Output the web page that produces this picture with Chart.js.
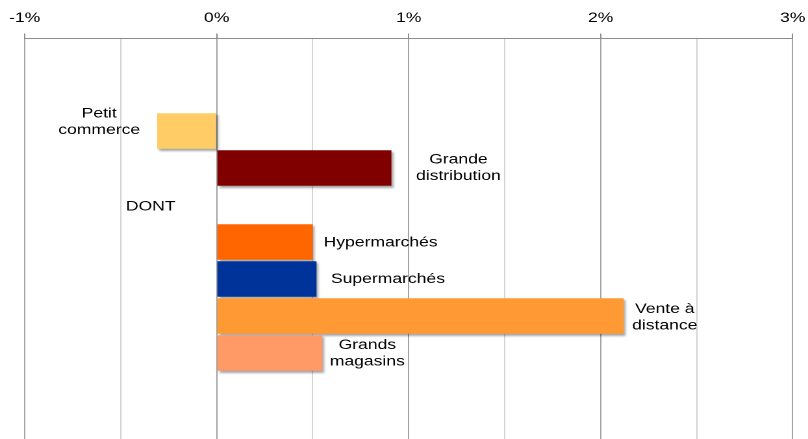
<!DOCTYPE html>
<html>
<head>
<meta charset="utf-8">
<script src="https://cdn.jsdelivr.net/npm/chart.js@4"></script>
<style>
  html, body { margin: 0; padding: 0; background: #fff; overflow: hidden; width: 808px; height: 439px; }
  #c { display: block; transform: scaleX(1.29904); transform-origin: 0 0; }
</style>
</head>
<body>
<canvas id="c" width="627" height="447"></canvas>
<script>
// ---- data ----
const categories = ["", "", ["Petit", "commerce"], ["Grande", "distribution"], ["DONT"], ["Hypermarchés"], ["Supermarchés"], ["Vente à", "distance"], ["Grands", "magasins"], "", ""];
const growth = [null, null, -0.31, 0.91, null, 0.50, 0.52, 2.12, 0.55, null, null];
const xTickValues = [-1, 0, 1, 2, 3];
const xTickLabels = ["-1%", "0%", "1%", "2%", "3%"];

// ---- styles ----
const barColors = ["#000", "#000", "#FFCC66", "#800000", "#000", "#FF6600", "#003399", "#FF9933", "#FF9966", "#000", "#000"];
// label placement: [dx from bar end, dy from row centre] in chart pixels
const labelOffsets = [null, null, [-44.6, -9], [51.6, 0], [-50.8, 2], [52.3, 1], [55, 0.5], [31.6, 1.5], [34.6, 0.5], null, null];
const FONT = "'Liberation Sans', Arial, sans-serif";

const shadowPlugin = {
  id: 'barShadow',
  beforeDatasetsDraw(chart) {
    const ctx = chart.ctx;
    ctx.save();
    ctx.shadowColor = 'rgba(0,0,0,0.35)';
    ctx.shadowBlur = 4;
    ctx.shadowOffsetX = 3;
    ctx.shadowOffsetY = 4;
  },
  afterDatasetsDraw(chart) {
    chart.ctx.restore();
  }
};

const labelPlugin = {
  id: 'barLabels',
  afterDraw(chart) {
    const ctx = chart.ctx;
    const xs = chart.scales.x, ys = chart.scales.y;
    ctx.save();
    ctx.font = "13.5px " + FONT;
    ctx.fillStyle = '#000';
    ctx.textAlign = 'center';
    ctx.textBaseline = 'middle';
    const lh = 16.5;
    categories.forEach((cat, i) => {
      const off = labelOffsets[i];
      if (!off) return;
      const lines = Array.isArray(cat) ? cat : [cat];
      const v = growth[i] == null ? 0 : growth[i];
      const x = xs.getPixelForValue(v) + off[0];
      const y = ys.getPixelForValue(i) + off[1];
      lines.forEach((t, k) => {
        ctx.fillText(t, x, y + (k - (lines.length - 1) / 2) * lh);
      });
    });
    ctx.restore();
  }
};

new Chart(document.getElementById('c'), {
  type: 'bar',
  data: {
    labels: categories,
    datasets: [{
      data: growth,
      backgroundColor: barColors,
      borderWidth: 0,
      barPercentage: 0.96,
      categoryPercentage: 1.0
    }]
  },
  options: {
    indexAxis: 'y',
    responsive: false,
    devicePixelRatio: 2,
    animation: false,
    layout: { padding: { left: 17.7, right: 5, top: 0, bottom: 1.5 } },
    plugins: { legend: { display: false }, tooltip: { enabled: false } },
    scales: {
      x: {
        position: 'top',
        min: -1,
        max: 3,
        afterFit(s) { s.height = 38.5; },
        ticks: {
          stepSize: 0.5,
          autoSkip: false,
          maxRotation: 0,
          padding: 7,
          color: '#000',
          font: { family: FONT, size: 13.5 },
          callback(v) {
            const idx = xTickValues.indexOf(v);
            return idx >= 0 ? xTickLabels[idx] : '';
          }
        },
        grid: {
          color: c => Number.isInteger(c.tick && c.tick.value) ? '#a3a3a3' : '#d4d4d4',
          tickColor: c => Number.isInteger(c.tick && c.tick.value) ? '#8c8c8c' : 'rgba(0,0,0,0)',
          tickLength: 5,
          lineWidth: 1
        },
        border: { display: true, color: '#8c8c8c', width: 1 }
      },
      y: {
        display: false
      }
    }
  },
  plugins: [shadowPlugin, labelPlugin]
});
</script>
</body>
</html>
